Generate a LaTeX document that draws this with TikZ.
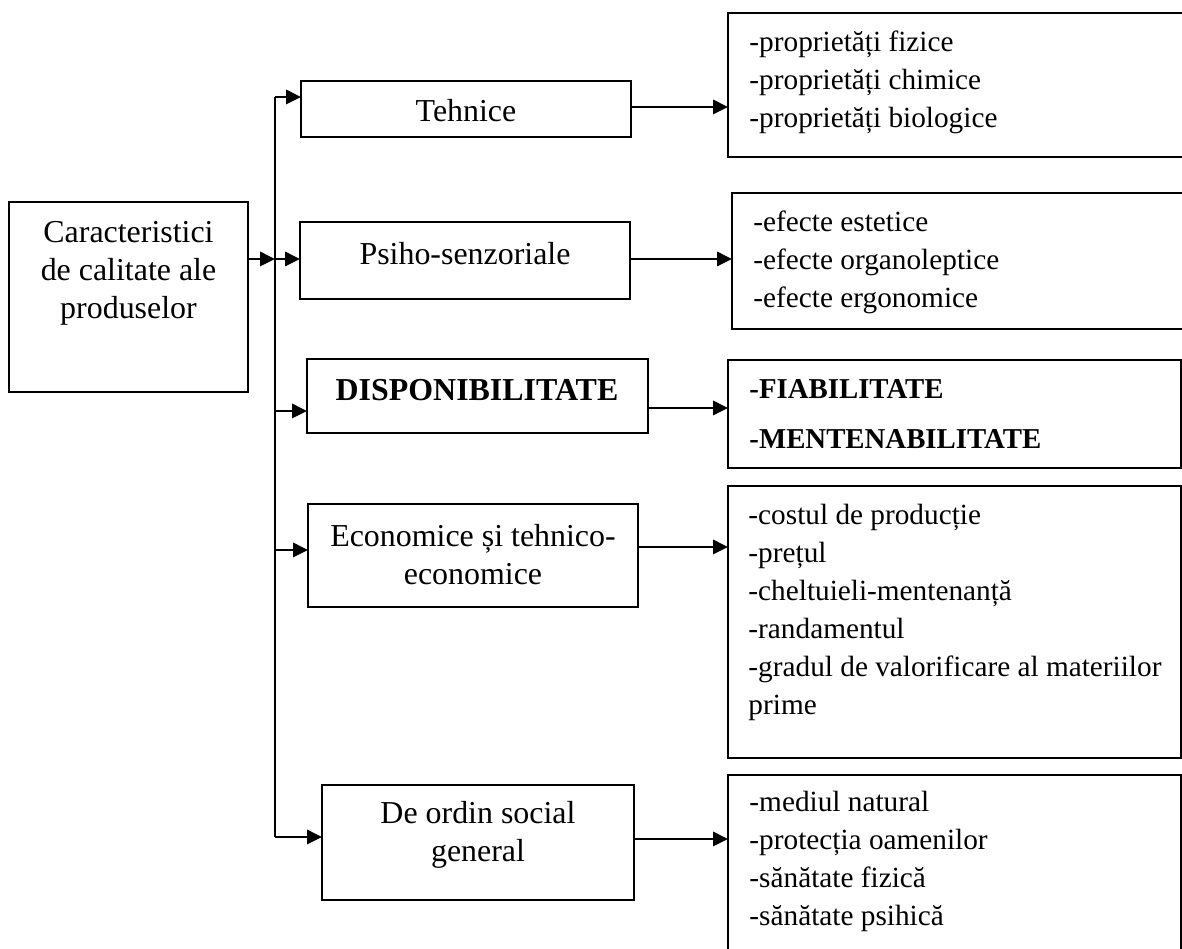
\documentclass[tikz,border=0pt]{standalone}
\usepackage{fontspec}
\setmainfont{Liberation Serif}
\usetikzlibrary{arrows.meta}
\newcommand{\boxat}[5]{\node[box,minimum width={(#4-#2)*0.41667pt},minimum height={(#5-#3)*0.41667pt}] (#1) at ({(#2+#4)/2},{(#3+#5)/2}) {};}
\begin{document}
\begin{tikzpicture}[x=0.41667pt,y=-0.41667pt,
  box/.style={draw,line width=0.85pt,inner sep=0pt,outer sep=0pt,rectangle},
  lbl/.style={font=\fontsize{13.3pt}{15.83pt}\selectfont,align=center,inner sep=0pt},
  lst/.style={font=\fontsize{12.2pt}{15.83pt}\selectfont,align=left,anchor=north west,inner sep=0pt},
  lstb/.style={font=\fontsize{12pt}{20.8pt}\selectfont\bfseries,align=left,anchor=north west,inner sep=0pt},
  arr/.style={line width=0.75pt,-{Triangle[length=6.2pt,width=6pt]}},
  ln/.style={line width=0.75pt}]
\clip (0,0) rectangle (1182,949);
\fill[white] (0,0) rectangle (1182,949);
% boxes
\boxat{L}{9}{202}{248}{392}
\boxat{T}{301}{81}{631}{137}
\boxat{P}{300}{222}{630}{299}
\boxat{D}{307}{359}{648}{433}
\boxat{E}{308}{504}{638}{607}
\boxat{G}{322}{785}{634}{900}
\boxat{R1}{728}{13}{1200}{157}
\boxat{R2}{732}{193}{1200}{329}
\boxat{R3}{728}{360}{1181}{468}
\boxat{R4}{728}{486}{1181}{758}
\boxat{R5}{728}{775}{1181}{1000}
% labels
\node[lbl] (Lt) at (128.5,273) {Caracteristici\\de calitate ale\\produselor};
\node[lbl] (Tt) at (466,111) {Tehnice};
\node[lbl] (Pt) at (465,254) {Psiho-senzoriale};
\node[lbl,font=\fontsize{13.3pt}{15.83pt}\selectfont\bfseries] (Dt) at (477,390) {DISPONIBILITATE};
\node[lbl] (Et) at (473,555) {Economice și tehnico-\\economice};
\node[lbl] (Gt) at (478,835) {De ordin social\\general};
% lists
\node[lst] (R1t) at (749,24.4) {\strut-proprietăți fizice\\-proprietăți chimice\\-proprietăți biologice};
\node[lst] (R2t) at (753,204.4) {\strut-efecte estetice\\-efecte organoleptice\\-efecte ergonomice};
\node[lstb] (R3t) at (749,363) {\strut-FIABILITATE\\-MENTENABILITATE};
\node[lst] (R4t) at (748,497.4) {\strut-costul de producție\\-prețul\\-cheltuieli-mentenanță\\-randamentul\\-gradul de valorificare al materiilor\\prime};
\node[lst] (R5t) at (749,784.4) {\strut-mediul natural\\-protecția oamenilor\\-sănătate fizică\\-sănătate psihică};
% spine
\coordinate (stop) at (275,97);
\coordinate (s0) at (275,259);
\coordinate (s3) at (275,411);
\coordinate (s4) at (275,550);
\coordinate (sbot) at (275,837);
\draw[ln] (stop) -- (sbot);
\draw[arr] (L.east |- s0) -- (s0);
\draw[arr] (stop) -- (stop -| T.west);
\draw[arr] (s0) -- (s0 -| P.west);
\draw[arr] (s3) -- (s3 -| D.west);
\draw[arr] (s4) -- (s4 -| E.west);
\draw[arr] (sbot) -- (sbot -| G.west);
% right arrows
\coordinate (y1) at (0,107);
\coordinate (y2) at (0,259);
\coordinate (y3) at (0,408);
\coordinate (y4) at (0,547);
\coordinate (y5) at (0,839);
\draw[arr] (T.east |- y1) -- (R1.west |- y1);
\draw[arr] (P.east |- y2) -- (R2.west |- y2);
\draw[arr] (D.east |- y3) -- (R3.west |- y3);
\draw[arr] (E.east |- y4) -- (R4.west |- y4);
\draw[arr] (G.east |- y5) -- (R5.west |- y5);
\end{tikzpicture}
\end{document}
